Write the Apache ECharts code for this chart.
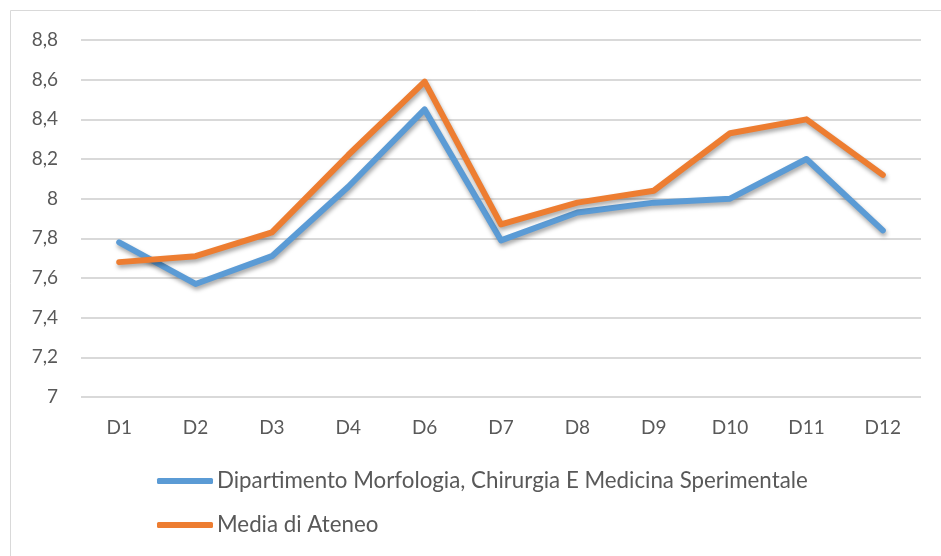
<!DOCTYPE html>
<html><head><meta charset="utf-8">
<script src="https://cdn.jsdelivr.net/npm/echarts@6/dist/echarts.min.js"></script>
<style>html,body{margin:0;padding:0;background:#fff}#c{width:941px;height:556px}</style>
</head><body><div id="c"></div>
<script>
const categories = ['D1','D2','D3','D4','D6','D7','D8','D9','D10','D11','D12'];
const dipartimento = [7.78,7.57,7.71,8.06,8.45,7.79,7.93,7.98,8.00,8.20,7.84];
const mediaAteneo = [7.68,7.71,7.83,8.22,8.59,7.87,7.98,8.04,8.33,8.40,8.12];
const seriesNames = ['Dipartimento Morfologia, Chirurgia E Medicina Sperimentale','Media di Ateneo'];
const yMin = 7, yMax = 8.8, yStep = 0.2;

const FONT = 'Lato';
const chart = echarts.init(document.getElementById('c'), null, {renderer:'canvas'});
const shadow = {shadowColor:'rgba(0,0,0,0.35)', shadowBlur:4, shadowOffsetX:1, shadowOffsetY:3};
chart.setOption({
  animation:false,
  backgroundColor:'#fff',
  graphic:[{type:'rect', shape:{x:10.5,y:10.5,width:960,height:580}, style:{fill:'none',stroke:'#d9d9d9',lineWidth:1}, silent:true, z:-1}],
  grid:{left:81,right:20,top:40,bottom:159,containLabel:false},
  legend:{
    orient:'vertical', left:152, top:465, itemGap:22, padding:5,
    itemWidth:56, itemHeight:6, icon:'roundRect',
    textStyle:{fontFamily:FONT,fontSize:22.3,color:'#595959',padding:[0,0,0,-1]},
    data:seriesNames
  },
  xAxis:{
    type:'category', data:categories, boundaryGap:true,
    axisLine:{show:false}, axisTick:{show:false},
    axisLabel:{fontFamily:FONT,fontSize:19,color:'#595959',margin:21}
  },
  yAxis:{
    type:'value', min:yMin, max:yMax, interval:yStep,
    axisLine:{show:false}, axisTick:{show:false},
    splitLine:{lineStyle:{color:'#d9d9d9',width:2}},
    axisLabel:{fontFamily:FONT,fontSize:19,color:'#595959',margin:23,
      formatter:v=>String(Math.round(v*10)/10).replace('.',',')}
  },
  series:[
    {name:seriesNames[0], type:'line', data:dipartimento, symbol:'none',
     itemStyle:{color:'#5B9BD5'}, lineStyle:Object.assign({width:6,color:'#5B9BD5',cap:'round',join:'round'},shadow)},
    {name:seriesNames[1], type:'line', data:mediaAteneo, symbol:'none',
     itemStyle:{color:'#ED7D31'}, lineStyle:Object.assign({width:6,color:'#ED7D31',cap:'round',join:'round'},shadow)}
  ]
});
</script></body></html>
